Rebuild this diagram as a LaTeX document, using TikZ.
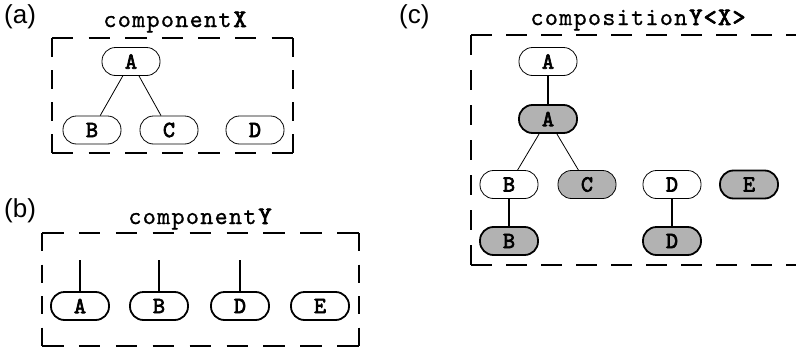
\documentclass[tikz,border=0pt]{standalone}
\usepackage{fontspec}
\setmainfont{Liberation Sans}
\newfontfamily\cmono[LetterSpace=5,FakeBold=0.8]{lmmono10-regular.otf}
\newfontfamily\cmonob[LetterSpace=5,FakeBold=3]{lmmono10-regular.otf}
\definecolor{ngray}{RGB}{178,178,178}
\begin{document}
\begin{tikzpicture}[x=1pt,y=-1pt,
  pill/.style={rectangle, rounded corners=13.5pt, minimum width=58pt, minimum height=28pt, inner sep=0pt,
     font=\cmonob\fontsize{23}{23}\selectfont},
  xn/.style={pill, draw, line width=0.8pt, fill=white},
  yn/.style={pill, draw, line width=1.8pt, fill=white},
  gr/.style={fill=ngray},
  thinedge/.style={line width=0.8pt},
  thickedge/.style={line width=1.8pt},
  frame/.style={line width=1.8pt},
  lab/.style={font=\fontsize{26}{26}\selectfont, anchor=base west, inner sep=0pt},
  ttl/.style={font=\cmono\fontsize{25}{25}\selectfont, anchor=base, inner sep=0pt}]
\useasboundingbox (0,0) rectangle (796,351);

% ---------- (a) ----------
\node[lab] (la) at (4,23) {(a)};
\node[ttl] (ta) at (175,27) {component\hspace{2pt}{\cmonob X}};
\draw[frame, dash pattern=on 21.35pt off 15.25pt] (52,38) -- (293,38);
\draw[frame, dash pattern=on 21.35pt off 15.25pt] (52,153) -- (293,153);
\draw[frame, dash pattern=on 18.7pt off 13.4pt] (52,38) -- (52,153);
\draw[frame, dash pattern=on 18.7pt off 13.4pt] (293,38) -- (293,153);
\node[xn] (xa) at (131,61.5) {A};
\node[xn] (xb) at (92,130) {B};
\node[xn] (xc) at (169,130) {C};
\node[xn] (xd) at (255,130) {D};
\draw[thinedge] (xa) -- (xb);
\draw[thinedge] (xa) -- (xc);

% ---------- (b) ----------
\node[lab] (lb) at (4,217) {(b)};
\node[ttl] (tb) at (200,224) {component\hspace{2pt}{\cmonob Y}};
\draw[frame, dash pattern=on 21.5pt off 15.4pt] (42,233) -- (359,233);
\draw[frame, dash pattern=on 21.5pt off 15.4pt] (42,346) -- (359,346);
\draw[frame, dash pattern=on 18.4pt off 13.1pt] (42,233) -- (42,346);
\draw[frame, dash pattern=on 18.4pt off 13.1pt] (359,233) -- (359,346);
\node[yn] (ya) at (80,306) {A};
\node[yn] (yb) at (159,306) {B};
\node[yn] (yd) at (240,306) {D};
\node[yn] (ye) at (320,306) {E};
\coordinate (pa) at (80,260);
\coordinate (pb) at (159,260);
\coordinate (pd) at (240,260);
\draw[thickedge] (pa) -- (ya);
\draw[thickedge] (pb) -- (yb);
\draw[thickedge] (pd) -- (yd);

% ---------- (c) ----------
\node[lab] (lc) at (399,23) {(c)};
\node[ttl] (tc) at (638,25) {composition\hspace{2pt}{\cmonob Y<X>}};
\draw[frame, dash pattern=on 21pt off 14pt] (471,35) -- (800,35);
\draw[frame, dash pattern=on 21pt off 14pt] (471,265) -- (800,265);
\draw[frame, dash pattern=on 20.4pt off 14.6pt] (471,35) -- (471,265);
\node[xn] (ca1) at (548,61.5) {A};
\node[yn, gr] (ca2) at (548,119) {A};
\node[xn] (cb1) at (509,184.5) {B};
\node[xn, gr] (cc) at (587,184.5) {C};
\node[xn] (cd1) at (672,184.5) {D};
\node[yn, gr] (ce) at (749,184.5) {E};
\node[yn, gr] (cb2) at (509,241) {B};
\node[yn, gr] (cd2) at (672,241) {D};
\draw[thickedge] (ca1) -- (ca2);
\draw[thinedge] (ca2) -- (cb1);
\draw[thinedge] (ca2) -- (cc);
\draw[thickedge] (cb1) -- (cb2);
\draw[thickedge] (cd1) -- (cd2);
\end{tikzpicture}
\end{document}
